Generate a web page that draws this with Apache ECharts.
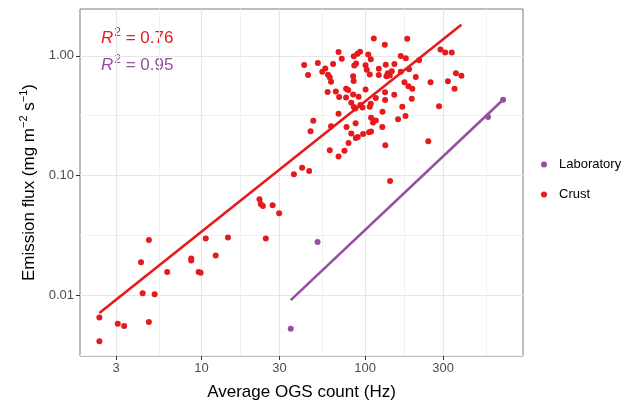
<!DOCTYPE html>
<html>
<head>
<meta charset="utf-8">
<script src="https://cdn.jsdelivr.net/npm/echarts@6/dist/echarts.min.js"></script>
<style>
  html, body { margin: 0; padding: 0; background: #fff; }
  #chart { width: 634px; height: 406px; }
</style>
</head>
<body>
<div id="chart"></div>
<script>
// crust samples (OGS count Hz, emission flux)
var crustX = [113, 132, 181, 68.8, 72.0, 85.3, 89.9, 93.2, 104.6, 108.3,
	42.4, 51.4, 63.7, 44.8, 54.7, 57.1, 59.3, 60.8, 61.9, 85.9,
	88.1, 100.6, 102.4, 106.8, 121.3, 121.3, 133.8, 151.2, 137.6, 135.1,
	145.6, 141.6, 165.3, 165.3, 177.4, 185.8, 213.8, 204.2, 84.5, 85.1,
	174.1, 184.2, 194.4, 251.4, 289, 309.2, 338.8, 359.4, 388.4, 321.1,
	352.5, 132.5, 150.8, 132.5, 193, 168.8, 283.4, 127.8, 59, 66.2,
	69.4, 76.5, 78.9, 76.5, 100.7, 84.5, 91.3, 82.3, 85.3, 93.5,
	108.3, 116.3, 68.8, 87.1, 96.4, 106.8, 108.8, 116.3, 111.9, 159.1,
	176.6, 48.2, 46.4, 61.9, 77, 87.5, 127.4, 82.3, 87.7, 90.2,
	97.2, 105.8, 108.8, 79.2, 74.8, 60.8, 68.8, 132.9, 243.4, 142.2,
	36.7, 41.2, 45.5, 22.6, 23, 23.7, 27.2, 29.8, 4.76, 10.6,
	14.5, 24.7, 2.37, 2.37, 3.07, 3.36, 4.26, 4.36, 4.76, 5.16,
	6.16, 8.64, 8.64, 9.59, 9.86, 12.2];
var crustY = [1.40, 1.24, 1.39, 1.075, 0.945, 0.991, 1.043, 1.085, 1.029, 0.936,
	0.838, 0.871, 0.854, 0.691, 0.738, 0.784, 0.697, 0.662, 0.608, 0.830,
	0.862, 0.835, 0.767, 0.700, 0.781, 0.691, 0.843, 0.854, 0.717, 0.674,
	0.745, 0.687, 0.738, 0.996, 0.954, 0.774, 0.918, 0.665, 0.674, 0.618,
	0.601, 0.557, 0.532, 0.601, 1.131, 1.065, 1.065, 0.717, 0.681, 0.614,
	0.530, 0.497, 0.474, 0.427, 0.438, 0.375, 0.380, 0.342, 0.500, 0.505,
	0.453, 0.530, 0.518, 0.448, 0.523, 0.475, 0.456, 0.406, 0.373, 0.389,
	0.398, 0.444, 0.328, 0.364, 0.371, 0.376, 0.304, 0.288, 0.278, 0.295,
	0.315, 0.287, 0.235, 0.258, 0.254, 0.273, 0.255, 0.225, 0.206, 0.210,
	0.222, 0.230, 0.233, 0.187, 0.161, 0.163, 0.144, 0.179, 0.193, 0.0901,
	0.1025, 0.116, 0.109, 0.0635, 0.0578, 0.0556, 0.0564, 0.0484, 0.0289, 0.0298,
	0.0304, 0.0298, 0.00651, 0.00413, 0.00578, 0.00553, 0.0189, 0.0104, 0.00597, 0.0102,
	0.0156, 0.0203, 0.0195, 0.0156, 0.0154, 0.0215];

// laboratory samples
var labX = [35.1, 51.2, 565, 698];
var labY = [0.00525, 0.0278, 0.309, 0.430];

// fitted lines (end points)
var crustFitX = [2.37, 388];
var crustFitY = [0.0071, 1.82];
var labFitX = [35.1, 698];
var labFitY = [0.0091, 0.43];

// axis breaks
var xBreaks = [3, 10, 30, 100, 300];
var xMinorBreaks = [5.48, 17.3, 54.8, 173, 548];
var yBreaks = [0.01, 0.1, 1];
var yMinorBreaks = [0.00316, 0.0316, 0.316];
var xRange = [1.804, 924.4];
var yRange = [0.003105, 2.464];

var red = '#E41A1C';
var purple = '#984EA3';
var font = 'Liberation Sans, Arial, sans-serif';

function pairs(xs, ys) {
	return xs.map(function(x, i) { return [x, ys[i]]; });
}

var chart = echarts.init(document.getElementById('chart'));

function gridAxis(range, values, color) {
	return {
		type: 'log', logBase: 10, min: range[0], max: range[1],
		axisLine: { show: false },
		axisTick: { show: false, customValues: values },
		axisLabel: { show: false, customValues: values },
		splitLine: { show: true, lineStyle: { color: color, width: 1 } },
		silent: true
	};
}

function rLabel(value, color) {
	return {
		text: '{i|R}{s|2}{n| = ' + value + '}',
		rich: {
			i: { fontFamily: font, fontSize: 17, fontStyle: 'italic', fill: color, lineHeight: 22 },
			s: { fontFamily: font, fontSize: 12, fill: color, lineHeight: 13, verticalAlign: 'top', padding: [0, 0, 0, 1] },
			n: { fontFamily: font, fontSize: 17, fill: color, lineHeight: 22 }
		}
	};
}

var xMain = {
	type: 'log', logBase: 10, min: xRange[0], max: xRange[1],
	position: 'bottom',
	name: 'Average OGS count (Hz)',
	nameLocation: 'middle', nameGap: 28,
	nameTextStyle: { fontFamily: font, fontSize: 17, color: '#000' },
	axisLine: { show: false },
	axisTick: { show: true, customValues: xBreaks, length: 4, lineStyle: { color: '#333' } },
	axisLabel: { customValues: xBreaks, margin: 6, fontFamily: font, fontSize: 13, color: '#4d4d4d',
		formatter: function(v) { return String(Math.round(v)); } },
	splitLine: { show: true, lineStyle: { color: '#e6e6e6', width: 1.2 } }
};
var yMain = {
	type: 'log', logBase: 10, min: yRange[0], max: yRange[1],
	position: 'left',
	name: '{n|Emission flux (mg m}{s|\u22122}{n| s}{s|\u22121}{n|)}',
	nameLocation: 'middle', nameGap: 39,
	nameTextStyle: {
		fontFamily: font, fontSize: 17, color: '#000',
		rich: {
			n: { fontFamily: font, fontSize: 17, color: '#000', lineHeight: 22 },
			s: { fontFamily: font, fontSize: 11, color: '#000', lineHeight: 12, verticalAlign: 'top' }
		}
	},
	axisLine: { show: false },
	axisTick: { show: true, customValues: yBreaks, length: 4, lineStyle: { color: '#333' } },
	axisLabel: { customValues: yBreaks, margin: 6, fontFamily: font, fontSize: 13, color: '#4d4d4d',
		formatter: function(v) { return v.toFixed(2); } },
	splitLine: { show: true, lineStyle: { color: '#e6e6e6', width: 1.2 } }
};

var option = {
	animation: false,
	backgroundColor: '#fff',
	grid: {
		left: 80, right: 111, top: 9, bottom: 45,
		show: true, borderColor: '#7a7a7a', borderWidth: 1, backgroundColor: 'transparent'
	},
	xAxis: [gridAxis(xRange, xMinorBreaks, '#f1f1f1'), xMain],
	yAxis: [gridAxis(yRange, yMinorBreaks, '#f1f1f1'), yMain],
	legend: {
		orient: 'vertical', left: 536, top: 153,
		itemWidth: 20, itemHeight: 6, itemGap: 17,
		icon: 'circle',
		textStyle: { fontFamily: font, fontSize: 13, color: '#000' },
		data: ['Laboratory', 'Crust']
	},
	graphic: [
		{ type: 'text', left: 101, top: 27, style: rLabel('0.76', red) },
		{ type: 'text', left: 101, top: 54, style: rLabel('0.95', purple) }
	],
	series: [
		{
			name: 'Laboratory', type: 'scatter', xAxisIndex: 1, yAxisIndex: 1,
			symbolSize: 6, itemStyle: { color: purple, opacity: 1 },
			data: pairs(labX, labY)
		},
		{
			name: 'Crust', type: 'scatter', xAxisIndex: 1, yAxisIndex: 1,
			symbolSize: 6, itemStyle: { color: red, opacity: 1 },
			data: pairs(crustX, crustY)
		},
		{
			name: 'Crust fit', type: 'line', xAxisIndex: 1, yAxisIndex: 1,
			showSymbol: false, symbol: 'none', lineStyle: { color: red, width: 2.6 },
			data: pairs(crustFitX, crustFitY)
		},
		{
			name: 'Laboratory fit', type: 'line', xAxisIndex: 1, yAxisIndex: 1,
			showSymbol: false, symbol: 'none', lineStyle: { color: purple, width: 2.6 },
			data: pairs(labFitX, labFitY)
		}
	]
};

chart.setOption(option);
</script>
</body>
</html>
